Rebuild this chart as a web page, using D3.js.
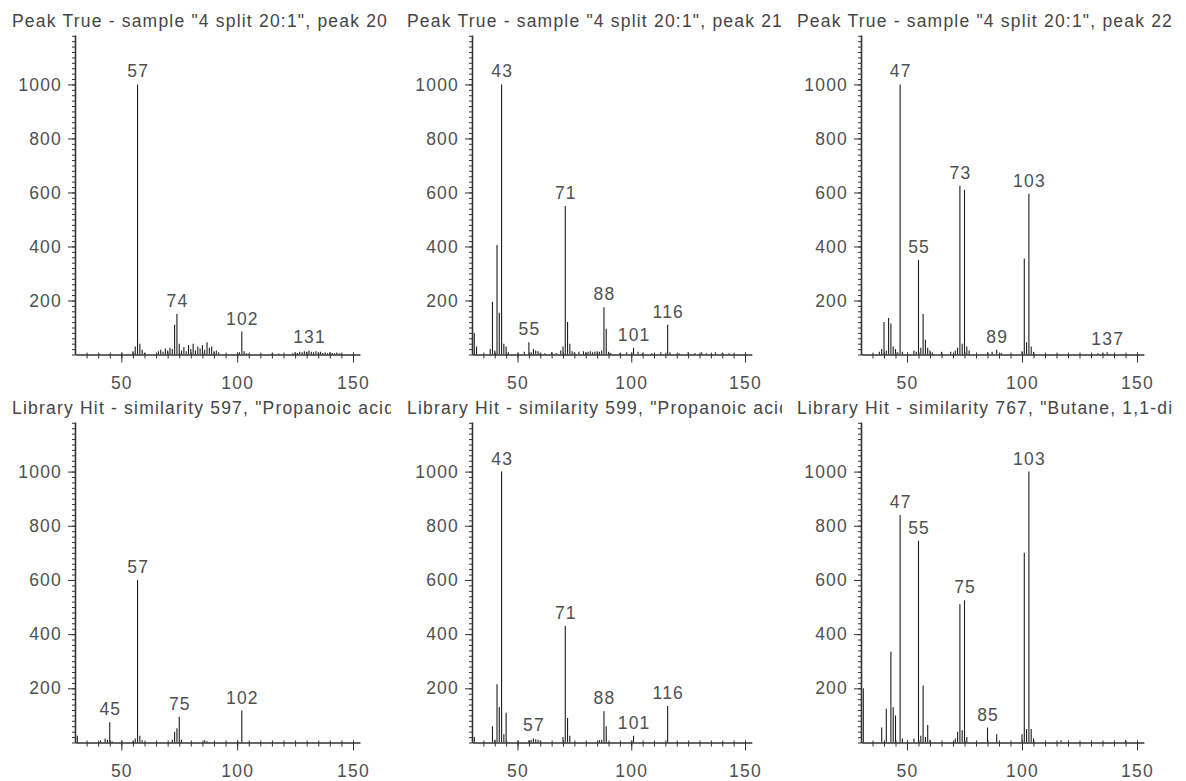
<!DOCTYPE html>
<html>
<head>
<meta charset="utf-8">
<script src="https://cdn.jsdelivr.net/npm/d3@7"></script>
<style>
  body { margin: 0; background: #fff; }
  svg text {
    font-family: "Liberation Sans", Arial, sans-serif;
    font-size: 17.5px;
    letter-spacing: 1.2px;
    fill: #505050;
  }
</style>
</head>
<body>
<svg id="chart" width="1186" height="781"></svg>
<script>
// Panel titles (the long library names are cut at the panel edge, as in the original)
const titles = [
  'Peak True - sample "4 split 20:1", peak 20',
  'Peak True - sample "4 split 20:1", peak 21',
  'Peak True - sample "4 split 20:1", peak 22',
  'Library Hit - similarity 597, "Propanoic acid',
  'Library Hit - similarity 599, "Propanoic acid',
  'Library Hit - similarity 767, "Butane, 1,1-di'
];

// Peak True, peak 20
const p1Mz = [55,56,57,58,59,60,66,67,68,69,70,71,72,73,74,75,76,77,78,79,80,81,82,83,84,85,86,87,88,89,90,91,92,101,102,103,104,115,118,124,125,126,127,128,129,130,131,132,133,134,135,136,137,138,139,140,141,142,143,144,145];
const p1Ab = [12,30,1000,40,18,6,12,18,10,22,15,25,20,110,150,40,15,28,12,35,20,40,15,30,22,35,18,45,25,30,12,15,8,8,85,12,5,4,4,5,8,6,10,8,12,10,15,10,8,12,8,10,6,8,5,8,6,5,7,5,4];
const p1Labels = [57, 74, 102, 131];

// Peak True, peak 21
const p2Mz = [31,32,38,39,40,41,42,43,44,45,46,53,55,56,57,58,59,60,62,65,67,69,70,71,72,73,74,75,77,79,80,81,82,83,84,85,86,87,88,89,90,91,95,98,101,103,105,109,113,116,117,121,125,128,131,133,137,140,143];
const p2Ab = [80,30,20,195,15,405,155,1000,40,30,8,10,45,8,20,15,12,6,5,8,6,15,30,550,120,40,12,8,10,12,8,10,12,8,10,12,10,15,175,95,10,6,5,8,25,10,6,5,8,110,8,5,8,6,8,5,8,6,5];
const p2Labels = [43, 55, 71, 88, 101, 116];

// Peak True, peak 22
const p3Mz = [38,39,40,41,42,43,44,45,46,47,48,53,54,55,56,57,58,59,60,61,65,69,71,72,73,74,75,76,77,85,87,89,91,100,101,102,103,104,105,133,135,137];
const p3Ab = [10,20,120,15,135,115,30,20,8,1000,10,15,10,350,25,150,55,25,15,8,10,10,15,25,625,40,610,30,15,8,10,18,6,12,355,45,595,30,10,5,4,8];
const p3Labels = [47, 55, 73, 89, 103, 137];

// Library hit, similarity 597
const p4Mz = [31,41,43,44,45,46,55,56,57,58,59,72,73,74,75,76,86,87,102];
const p4Ab = [25,8,15,10,75,5,5,15,600,25,8,10,40,53,95,10,8,5,118];
const p4Labels = [45, 57, 75, 102];

// Library hit, similarity 599
const p5Mz = [31,39,40,41,42,43,44,45,55,56,57,58,59,60,70,71,72,73,86,87,88,89,101,116];
const p5Ab = [20,60,10,215,130,1000,30,110,8,10,15,12,10,6,20,430,90,25,8,10,115,60,25,135];
const p5Labels = [43, 57, 71, 88, 101, 116];

// Library hit, similarity 767
const p6Mz = [31,39,41,43,44,45,47,48,53,55,56,57,58,59,60,71,72,73,74,75,76,85,89,100,101,102,103,104,105,117,145];
const p6Ab = [200,55,125,335,130,100,840,15,15,745,25,210,20,65,10,15,40,510,45,525,20,55,30,30,700,50,1000,50,15,8,8];
const p6Labels = [47, 55, 75, 85, 103];

const yMajor = [200, 400, 600, 800, 1000];
const yMinor = d3.range(0, 1181, 20);
const xMajor = [50, 100, 150];
const xMinor = d3.range(35, 151, 5);

const panels = [
  { mz: p1Mz, ab: p1Ab, labels: p1Labels },
  { mz: p2Mz, ab: p2Ab, labels: p2Labels },
  { mz: p3Mz, ab: p3Ab, labels: p3Labels },
  { mz: p4Mz, ab: p4Ab, labels: p4Labels },
  { mz: p5Mz, ab: p5Ab, labels: p5Labels },
  { mz: p6Mz, ab: p6Ab, labels: p6Labels }
];

// layout of the 3x2 grid
const colLeft = [75, 472, 861], col150 = [353, 745, 1137];
const titleX = [12, 407, 797], titleEnd = [391, 782, 1176];
const rowBase = [354.5, 742.5], rowTop = [35, 422], titleY = [26.5, 413.5];

const svg = d3.select("#chart");
const defs = svg.append("defs");

panels.forEach((p, i) => {
  const c = i % 3, r = Math.floor(i / 3);

  const x = d3.scaleLinear().domain([30, 150]).range([colLeft[c], col150[c]]);
  const y = d3.scaleLinear().domain([0, 1183]).range([rowBase[r], rowTop[r]]);
  const xAxisScale = d3.scaleLinear().domain([30, 153]).range([x(30), x(153)]);

  const g = svg.append("g");

  // Title, clipped at the panel edge
  defs.append("clipPath").attr("id", "clip" + i)
    .append("rect")
    .attr("x", titleX[c] - 4).attr("y", titleY[r] - 20)
    .attr("width", titleEnd[c] - titleX[c] + 4).attr("height", 28);

  g.append("text")
    .attr("clip-path", `url(#clip${i})`)
    .attr("x", titleX[c])
    .attr("y", titleY[r])
    .style("fill", "#454545")
    .text(titles[i]);

  // Spectrum sticks
  const pts = p.mz.map((m, j) => ({ m, v: p.ab[j] }));
  g.selectAll("line.bar")
    .data(pts)
    .join("line")
    .attr("class", "bar")
    .attr("x1", d => x(d.m))
    .attr("x2", d => x(d.m))
    .attr("y1", y(0))
    .attr("y2", d => y(d.v))
    .attr("stroke", "#1e1e1e")
    .attr("stroke-width", 1.1);

  // Peak labels
  g.selectAll("text.lab")
    .data(p.labels.map(m => pts.find(d => d.m === m)))
    .join("text")
    .attr("class", "lab")
    .attr("x", d => x(d.m) + 0.6)
    .attr("y", d => y(d.v) - 7)
    .attr("text-anchor", "middle")
    .text(d => d.m);

  // Y axis: minor then major
  g.append("g")
    .attr("transform", `translate(${x(30)},0)`)
    .style("color", "#333")
    .call(d3.axisLeft(y).tickValues(yMinor).tickSize(3).tickFormat("").tickSizeOuter(0))
    .call(a => a.select(".domain").attr("stroke-width", 1.6));

  g.append("g")
    .attr("transform", `translate(${x(30)},0)`)
    .style("color", "#333")
    .call(d3.axisLeft(y).tickValues(yMajor).tickSize(7).tickPadding(6).tickSizeOuter(0).tickFormat(d3.format("d")))
    .call(a => a.select(".domain").remove());

  // X axis: minor (crossing), then major with labels
  g.append("g")
    .attr("transform", `translate(0,${y(0)})`)
    .style("color", "#333")
    .call(d3.axisBottom(xAxisScale).tickValues(xMinor).tickSize(4).tickFormat("").tickSizeOuter(0))
    .call(a => a.select(".domain").attr("stroke-width", 1.6))
    .call(a => a.selectAll(".tick line").attr("y1", -2));

  g.append("g")
    .attr("transform", `translate(0,${y(0)})`)
    .style("color", "#333")
    .call(d3.axisBottom(xAxisScale).tickValues(xMajor).tickSize(8).tickPadding(14).tickSizeOuter(0).tickFormat(d3.format("d")))
    .call(a => a.select(".domain").remove())
    .call(a => a.selectAll(".tick line").attr("y1", -2));
});
</script>
</body>
</html>
